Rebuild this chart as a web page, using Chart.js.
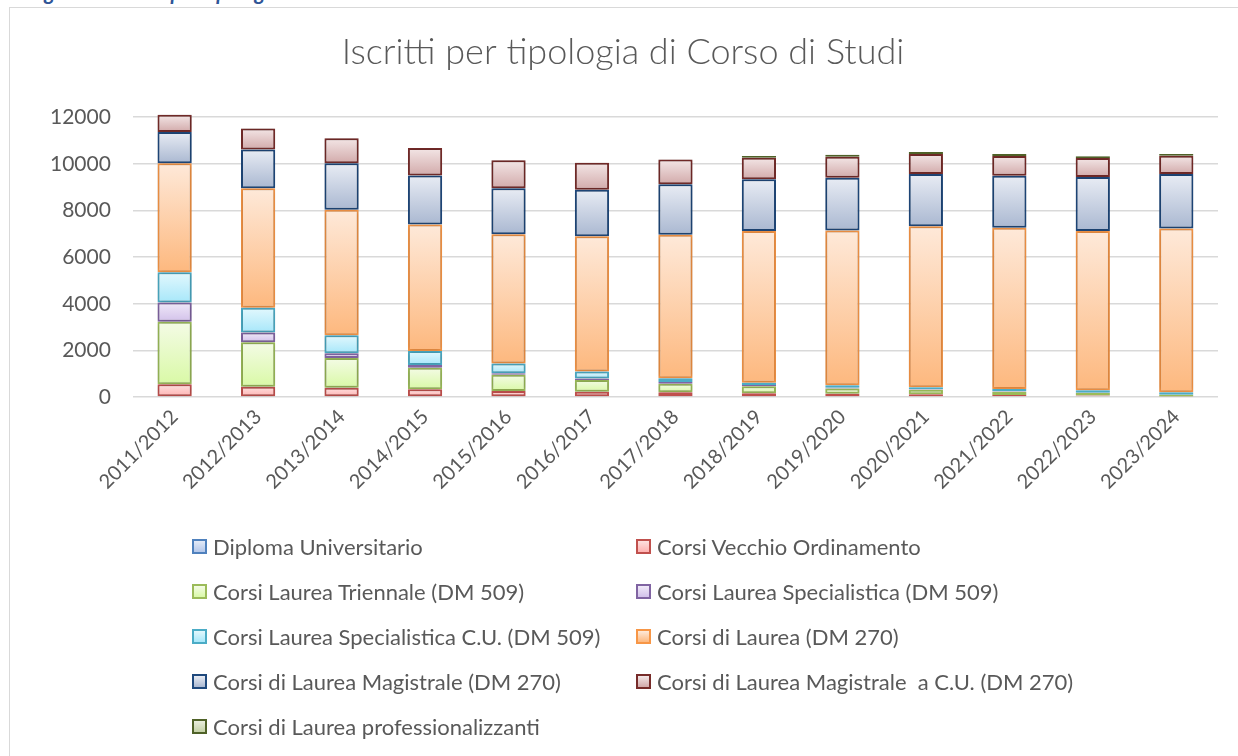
<!DOCTYPE html>
<html>
<head>
<meta charset="utf-8">
<script src="https://cdn.jsdelivr.net/npm/chart.js@4.4.1/dist/chart.umd.min.js"></script>
<style>
  html, body { margin: 0; padding: 0; background: #ffffff; }
  body { width: 1238px; height: 756px; position: relative; overflow: hidden; font-family: Lato, "Open Sans", sans-serif; }
  #caption { position: absolute; left: 28px; top: -21px; font: italic bold 21px Lato, sans-serif; color: #2F5597; white-space: nowrap; }
  #frame { position: absolute; left: 9px; top: 7px; width: 1240px; height: 760px; border-top: 1px solid #d9d9d9; border-left: 1px solid #d9d9d9; }
  #wrap { position: absolute; left: 0; top: 0; width: 1238px; height: 530px; }
  #legend { position: absolute; left: 0; top: 0; width: 1238px; height: 756px; pointer-events: none; }
  .li { position: absolute; display: flex; align-items: center; font: 22px Lato, sans-serif; color: #595959; white-space: pre; }
  .sw { width: 11px; height: 11px; border: 2px solid; margin-right: 6px; box-sizing: content-box; }
</style>
</head>
<body>
<div id="caption">Figura 5: Iscritti per tipologia di corso</div>
<div id="frame"></div>
<div id="wrap"><canvas id="c" width="1238" height="530"></canvas></div>
<div id="legend"></div>
<script>
const categories = ['2011/2012','2012/2013','2013/2014','2014/2015','2015/2016','2016/2017','2017/2018','2018/2019','2019/2020','2020/2021','2021/2022','2022/2023','2023/2024'];
const seriesNames = ['Diploma Universitario','Corsi Vecchio Ordinamento','Corsi Laurea Triennale (DM 509)','Corsi Laurea Specialistica (DM 509)','Corsi Laurea Specialistica C.U. (DM 509)','Corsi di Laurea (DM 270)','Corsi di Laurea Magistrale (DM 270)','Corsi di Laurea Magistrale  a C.U. (DM 270)','Corsi di Laurea professionalizzanti'];
const diplomaUniversitario = [0,0,0,0,0,0,0,0,0,0,0,0,0];
const vecchioOrdinamento = [550,445,400,330,260,230,200,160,140,115,90,60,25];
const laureaTriennale509 = [2680,1905,1277,930,690,500,370,300,230,200,140,110,70];
const laureaSpecialistica509 = [820,415,200,115,70,60,70,55,30,20,15,10,5];
const laureaSpecialisticaCU509 = [1300,1060,775,600,415,300,170,100,100,80,100,110,100];
const laurea270 = [4675,5130,5377,5420,5550,5805,6150,6510,6640,6910,6910,6825,7025];
const laureaMagistrale270 = [1345,1665,1993,2107,1965,1995,2165,2210,2265,2235,2237,2320,2335];
const laureaMagistraleCU270 = [730,900,1075,1176,1205,1160,1060,930,900,860,845,820,790];
const laureaProfessionalizzanti = [0,0,0,0,0,0,0,70,85,90,85,70,70];
const yTicks = [0,2000,4000,6000,8000,10000,12000];

const seriesData = [diplomaUniversitario, vecchioOrdinamento, laureaTriennale509, laureaSpecialistica509, laureaSpecialisticaCU509, laurea270, laureaMagistrale270, laureaMagistraleCU270, laureaProfessionalizzanti];
const styles = [
  {border:'#4F81BD', light:'#e3eaf7', dark:'#b3c7ea'},
  {border:'#C0504D', light:'#fde0df', dark:'#ffb1b0'},
  {border:'#9BBB59', light:'#f4fbe6', dark:'#d9f9a6'},
  {border:'#8064A2', light:'#f0e9f8', dark:'#d2c1ea'},
  {border:'#4BACC6', light:'#e3f8fd', dark:'#a7e7fa'},
  {border:'#F79646', light:'#fee9d9', dark:'#fdb87e'},
  {border:'#1F497D', light:'#e8ecf4', dark:'#aab8d1'},
  {border:'#772C2A', light:'#f3e6e6', dark:'#d2aaaa'},
  {border:'#4F6228', light:'#e9eedd', dark:'#c4d1a6'}
];

function gradFor(i) {
  return function(ctx) {
    const st = styles[i];
    const chart = ctx.chart;
    if (!chart.chartArea || ctx.type !== 'data' || !chart.scales.y) return st.dark;
    const ys = chart.scales.y;
    let base = 0;
    for (let k = 0; k < ctx.datasetIndex; k++) base += chart.data.datasets[k].data[ctx.dataIndex] || 0;
    const v = ctx.raw || 0;
    const yTop = ys.getPixelForValue(base + v), yBot = ys.getPixelForValue(base);
    if (!isFinite(yTop) || !isFinite(yBot) || yBot - yTop < 1) return st.dark;
    const g = chart.ctx.createLinearGradient(0, yTop, 0, yBot);
    g.addColorStop(0, st.light);
    g.addColorStop(1, st.dark);
    return g;
  };
}

const datasets = seriesNames.map((name, i) => ({
  label: name,
  data: seriesData[i],
  backgroundColor: gradFor(i),
  borderColor: styles[i].border,
  borderWidth: 2,
  borderSkipped: false,
  barPercentage: 0.41,
  categoryPercentage: 1.0,
  clip: false,
  stack: 's'
}));

const shadowPlugin = {
  id: 'shadow',
  beforeDatasetsDraw(chart) { const c = chart.ctx; c.save(); c.shadowColor = 'rgba(0,0,0,0.28)'; c.shadowBlur = 4; c.shadowOffsetX = 0; c.shadowOffsetY = 0; },
  afterDatasetsDraw(chart) { chart.ctx.restore(); }
};

const chart = new Chart(document.getElementById('c'), {
  type: 'bar',
  data: { labels: categories, datasets },
  plugins: [shadowPlugin],
  options: {
    responsive: false,
    animation: false,
    layout: { padding: { left: 28, right: 20, top: 0, bottom: 28 } },
    plugins: {
      legend: { display: false },
      tooltip: { enabled: false },
      title: {
        display: true,
        text: 'Iscritti per tipologia di Corso di Studi',
        color: '#595959',
        font: { family: 'Lato', size: 36, weight: '300' },
        padding: { top: 31, bottom: 43 }
      }
    },
    scales: {
      x: {
        stacked: true,
        offset: true,
        grid: { display: false, drawTicks: false },
        border: { display: false },
        ticks: { color: '#595959', font: { family: 'Lato', size: 20 }, minRotation: 45, maxRotation: 45, padding: 8, autoSkip: false }
      },
      y: {
        stacked: true,
        min: 0, max: 12000,
        afterBuildTicks(scale) { scale.ticks = yTicks.map(v => ({ value: v })); },
        grid: { color: '#d9d9d9', lineWidth: 1.5, drawTicks: false },
        border: { display: false },
        ticks: { color: '#595959', font: { family: 'Lato', size: 21 }, padding: 22, callback: (v) => String(v) }
      }
    }
  }
});

// HTML legend built from chart datasets (two columns, row-wise like Excel)
const legend = document.getElementById('legend');
const colX = [192, 636];
const rowY = [547, 592, 637, 682, 727];
chart.data.datasets.forEach((ds, i) => {
  const st = styles[i];
  const item = document.createElement('div');
  item.className = 'li';
  item.style.left = colX[i % 2] + 'px';
  item.style.top = (rowY[Math.floor(i / 2)] - 14) + 'px';
  const sw = document.createElement('span');
  sw.className = 'sw';
  sw.style.borderColor = st.border;
  sw.style.background = 'linear-gradient(' + st.light + ',' + st.dark + ')';
  const tx = document.createElement('span');
  tx.textContent = ds.label;
  item.appendChild(sw); item.appendChild(tx);
  legend.appendChild(item);
});
</script>
</body>
</html>
